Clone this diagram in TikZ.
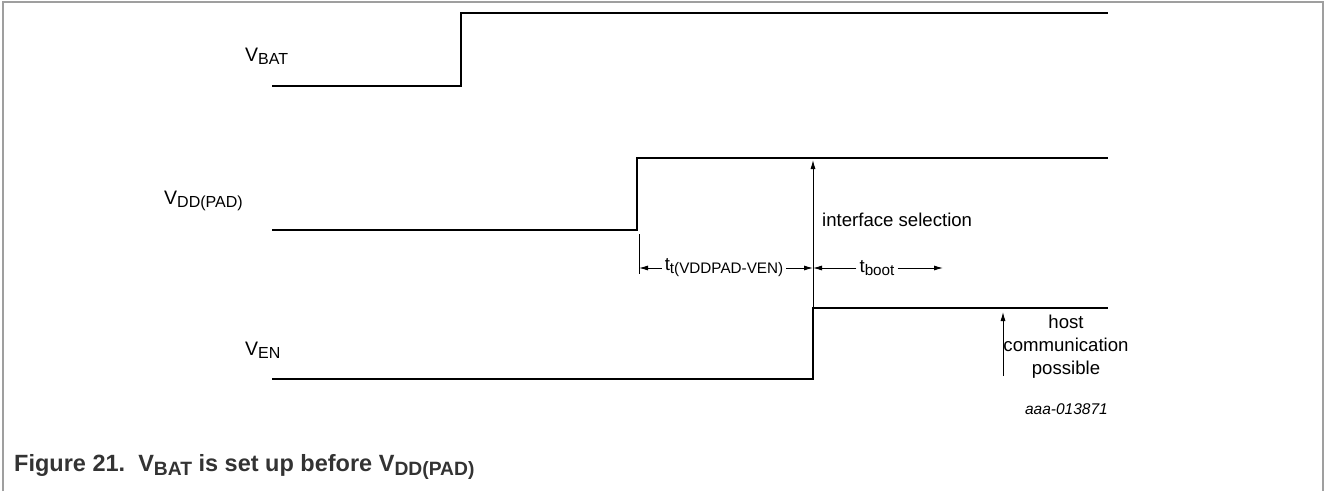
\documentclass[tikz,border=0pt]{standalone}
\usepackage{fontspec}
\setmainfont{Liberation Sans}
\usepackage{tikz}
\usetikzlibrary{arrows.meta, positioning, calc}
\newcommand{\sbs}[1]{\raisebox{-0.3ex}{\scalebox{0.82}{#1}}}
\tikzset{
    signal/.style={line width=2.6pt, line join=miter},
    frameline/.style={draw=gray!75, line width=1.6pt},
    arrow/.style={-{Latex[length=9pt, width=5pt]}, line width=0.9pt},
    tick/.style={line width=0.9pt},
    sig/.style={font=\fontsize{19.5}{22}\selectfont, inner sep=0pt},
    label/.style={font=\fontsize{18.6}{22}\selectfont, inner sep=0pt},
    code/.style={font=\fontsize{15.5}{18}\selectfont\itshape, inner sep=0pt},
    caption/.style={font=\fontsize{23.5}{26}\selectfont\bfseries, text=black!80, inner sep=0pt},
}
\begin{document}
\begin{tikzpicture}[x=1pt, y=-1pt]
    \useasboundingbox (0,0) rectangle (1325,491);
    % frame
    \draw[frameline] (3,491) -- (3,2) -- (1323,2) -- (1323,491);

    % signal names
    \node[sig, anchor=west] (vbat) at (245,56) {V\sbs{BAT}};
    \node[sig, anchor=west] (vdd) at (164,201) {V\sbs{DD(PAD)}};
    \node[sig, anchor=west] (ven) at (245,350) {V\sbs{EN}};

    % waveforms
    \draw[signal] (272,86) -- (461,86) -- (461,13) -- (1108,13);
    \draw[signal] (272,230) -- (637,230) -- (637,158) -- (1108,158);
    \draw[signal] (272,379) -- (813,379) -- (813,308) -- (1108,308);

    % interface selection
    \coordinate (ifbase) at (813,308);
    \coordinate (iftop) at (813,160);
    \draw[arrow] (ifbase) -- (iftop);
    \node[label, anchor=west] (ifsel) at (822,220) {interface selection};

    % timing
    \coordinate (tickA) at (639,268);
    \coordinate (tickB) at (813,268);
    \coordinate (tbootend) at (943,268);
    \draw[tick] (639,234) -- (639,274);
    \node[label] (tdly) at (724,268) {t\sbs{t(VDDPAD-VEN)}};
    \node[label] (tboot) at (877,268) {t\sbs{boot}};
    \draw[arrow] ([xshift=-3pt]tdly.west) -- (tickA);
    \draw[arrow] ([xshift=3pt]tdly.east) -- (tickB);
    \draw[arrow] ([xshift=-3pt]tboot.west) -- (tickB);
    \draw[arrow] ([xshift=3pt]tboot.east) -- (tbootend);

    % host communication
    \coordinate (hostbase) at (1003,376);
    \coordinate (hosttop) at (1003,312);
    \draw[arrow] (hostbase) -- (hosttop);
    \node[label, align=center] (host) at (1066,347) {host\\[1pt]communication\\[1pt]possible};

    % figure code and caption
    \node[code, anchor=east] (fig) at (1108,409) {aaa-013871};
    \node[caption, anchor=west] (cap) at (14,467) {Figure 21.\ \ V\sbs{BAT} is set up before V\sbs{DD(PAD)}};
\end{tikzpicture}
\end{document}
